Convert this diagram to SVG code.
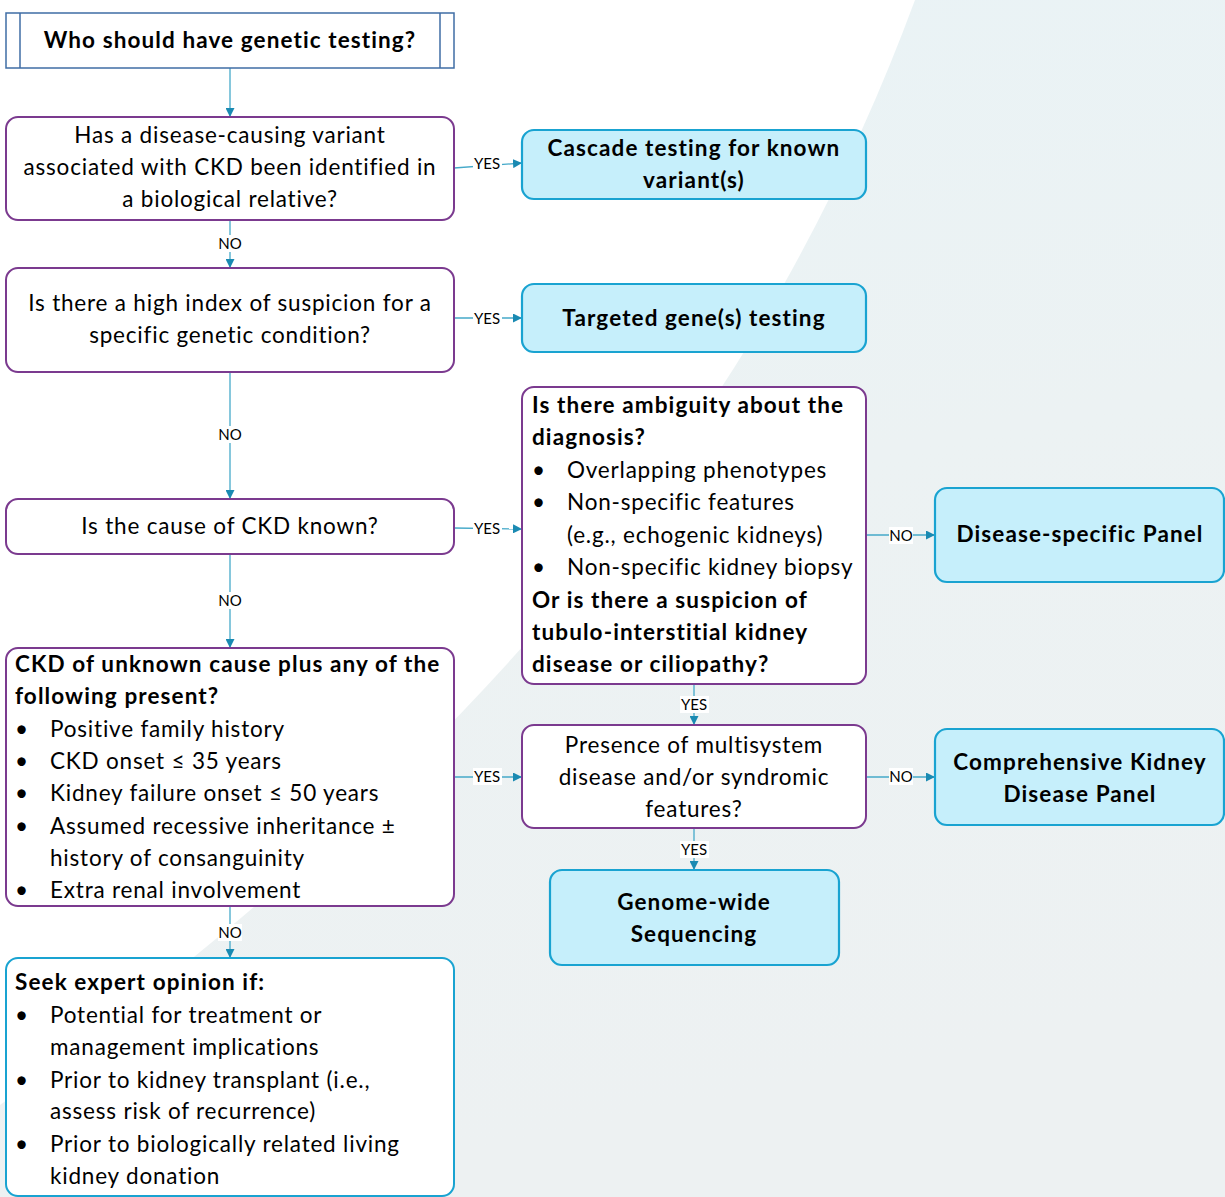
<svg xmlns="http://www.w3.org/2000/svg" width="1225" height="1197" viewBox="0 0 1225 1197">
<defs>
<linearGradient id="bg" x1="0" y1="0" x2="0.2" y2="1">
<stop offset="0" stop-color="#E9F3F6"/>
<stop offset="0.5" stop-color="#ECF2F3"/>
<stop offset="1" stop-color="#EDF1F2"/>
</linearGradient>
<marker id="arr" viewBox="0 0 10 10" refX="10" refY="5" markerWidth="9" markerHeight="9" markerUnits="userSpaceOnUse" orient="auto">
<path d="M0,0 L10,5 L0,10 Z" fill="#1A8AB2"/>
</marker>
<style>
.q{fill:#FFFFFF;stroke:#7B3A8F;stroke-width:2}
.r{fill:#C6EFFB;stroke:#19A3D1;stroke-width:2.2}
.t{font-family:Lato,"Liberation Sans",sans-serif;font-size:22.5px;letter-spacing:0.8px;fill:#000}
.b{font-weight:bold;letter-spacing:1.1px}
.c{text-anchor:middle}
.conn{stroke:#45A9C9;stroke-width:1.3;fill:none;marker-end:url(#arr)}
.lb{font-family:Lato,"Liberation Sans",sans-serif;font-size:15px;fill:#000;text-anchor:middle}
.lbg{fill:#FFFFFF}
</style>
</defs>
<rect width="1225" height="1197" fill="#FFFFFF"/>
<path d="M915,0 C760,420 480,760 0,1105 L0,1197 L1225,1197 L1225,0 Z" fill="url(#bg)"/>

<g id="connectors">
<path class="conn" d="M230,68 L230,117"/>
<path class="conn" d="M454,168 L522,163"/>
<path class="conn" d="M230,220 L230,268"/>
<path class="conn" d="M454,318 L522,318"/>
<path class="conn" d="M230,372 L230,499"/>
<path class="conn" d="M454,528 L522,529"/>
<path class="conn" d="M230,554 L230,648"/>
<path class="conn" d="M866,535 L935,535"/>
<path class="conn" d="M694,684 L694,725"/>
<path class="conn" d="M866,777 L935,777"/>
<path class="conn" d="M694,828 L694,870"/>
<path class="conn" d="M454,777 L522,777"/>
<path class="conn" d="M230,906 L230,958"/>
<g id="labels">
<rect class="lbg" x="473" y="155" width="29" height="17"/><text class="lb" x="487" y="169">YES</text>
<rect class="lbg" x="218" y="235" width="24" height="17"/><text class="lb" x="230" y="249">NO</text>
<rect class="lbg" x="473" y="310" width="29" height="17"/><text class="lb" x="487" y="324">YES</text>
<rect class="lbg" x="218" y="426" width="24" height="17"/><text class="lb" x="230" y="440">NO</text>
<rect class="lbg" x="473" y="520" width="29" height="17"/><text class="lb" x="487" y="534">YES</text>
<rect class="lbg" x="218" y="592" width="24" height="17"/><text class="lb" x="230" y="606">NO</text>
<rect class="lbg" x="889" y="527" width="24" height="17"/><text class="lb" x="901" y="541">NO</text>
<rect class="lbg" x="680" y="696" width="29" height="17"/><text class="lb" x="694" y="710">YES</text>
<rect class="lbg" x="889" y="768" width="24" height="17"/><text class="lb" x="901" y="782">NO</text>
<rect class="lbg" x="473" y="768" width="29" height="17"/><text class="lb" x="487" y="782">YES</text>
<rect class="lbg" x="680" y="841" width="29" height="17"/><text class="lb" x="694" y="855">YES</text>
<rect class="lbg" x="218" y="924" width="24" height="17"/><text class="lb" x="230" y="938">NO</text>
</g>
</g>

<g id="n-title">
<rect x="6" y="13" width="448" height="55" fill="#FFFFFF" stroke="#3F6DA5" stroke-width="1.5"/>
<line x1="20" y1="13" x2="20" y2="68" stroke="#3F6DA5" stroke-width="1.5"/>
<line x1="440" y1="13" x2="440" y2="68" stroke="#3F6DA5" stroke-width="1.5"/>
<text class="t b c" x="230" y="48">Who should have genetic testing?</text>
</g>

<g id="n-variant">
<rect class="q" x="6" y="117" width="448" height="103" rx="12"/>
<text class="t c" x="230" y="143">Has a disease-causing variant</text>
<text class="t c" x="230" y="175">associated with CKD been identified in</text>
<text class="t c" x="230" y="207">a biological relative?</text>
</g>

<g id="n-cascade">
<rect class="r" x="522" y="130" width="344" height="69" rx="12"/>
<text class="t b c" x="694" y="156">Cascade testing for known</text>
<text class="t b c" x="694" y="188">variant(s)</text>
</g>

<g id="n-suspicion">
<rect class="q" x="6" y="268" width="448" height="104" rx="12"/>
<text class="t c" x="230" y="311">Is there a high index of suspicion for a</text>
<text class="t c" x="230" y="343">specific genetic condition?</text>
</g>

<g id="n-targeted">
<rect class="r" x="522" y="284" width="344" height="68" rx="12"/>
<text class="t b c" x="694" y="326">Targeted gene(s) testing</text>
</g>

<g id="n-cause">
<rect class="q" x="6" y="499" width="448" height="55" rx="12"/>
<text class="t c" x="230" y="534">Is the cause of CKD known?</text>
</g>

<g id="n-ambiguity">
<rect class="q" x="522" y="387" width="344" height="297" rx="12"/>
<text class="t b" x="532" y="413">Is there ambiguity about the</text>
<text class="t b" x="532" y="445">diagnosis?</text>
<text class="t" x="532" y="478">•</text><text class="t" x="567" y="478">Overlapping phenotypes</text>
<text class="t" x="532" y="510">•</text><text class="t" x="567" y="510">Non-specific features</text>
<text class="t" x="567" y="543">(e.g., echogenic kidneys)</text>
<text class="t" x="532" y="575">•</text><text class="t" x="567" y="575">Non-specific kidney biopsy</text>
<text class="t b" x="532" y="608">Or is there a suspicion of</text>
<text class="t b" x="532" y="640">tubulo-interstitial kidney</text>
<text class="t b" x="532" y="672">disease or ciliopathy?</text>
</g>

<g id="n-disease-panel">
<rect class="r" x="935" y="488" width="289" height="94" rx="12"/>
<text class="t b c" x="1080" y="542">Disease-specific Panel</text>
</g>

<g id="n-multisystem">
<rect class="q" x="522" y="725" width="344" height="103" rx="12"/>
<text class="t c" x="694" y="753">Presence of multisystem</text>
<text class="t c" x="694" y="785">disease and/or syndromic</text>
<text class="t c" x="694" y="817">features?</text>
</g>

<g id="n-comprehensive">
<rect class="r" x="935" y="729" width="289" height="96" rx="12"/>
<text class="t b c" x="1080" y="770">Comprehensive Kidney</text>
<text class="t b c" x="1080" y="802">Disease Panel</text>
</g>

<g id="n-genome">
<rect class="r" x="550" y="870" width="289" height="95" rx="12"/>
<text class="t b c" x="694" y="910">Genome-wide</text>
<text class="t b c" x="694" y="942">Sequencing</text>
</g>

<g id="n-ckd">
<rect class="q" x="6" y="648" width="448" height="258" rx="12"/>
<text class="t b" x="15" y="672">CKD of unknown cause plus any of the</text>
<text class="t b" x="15" y="704">following present?</text>
<text class="t" x="15" y="737">•</text><text class="t" x="50" y="737">Positive family history</text>
<text class="t" x="15" y="769">•</text><text class="t" x="50" y="769">CKD onset ≤ 35 years</text>
<text class="t" x="15" y="801">•</text><text class="t" x="50" y="801">Kidney failure onset ≤ 50 years</text>
<text class="t" x="15" y="834">•</text><text class="t" x="50" y="834">Assumed recessive inheritance ±</text>
<text class="t" x="50" y="866">history of consanguinity</text>
<text class="t" x="15" y="898">•</text><text class="t" x="50" y="898">Extra renal involvement</text>
</g>

<g id="n-expert">
<rect x="6" y="958" width="448" height="238" rx="12" fill="#FFFFFF" stroke="#19A3D1" stroke-width="2"/>
<text class="t b" x="15" y="990">Seek expert opinion if:</text>
<text class="t" x="15" y="1023">•</text><text class="t" x="50" y="1023">Potential for treatment or</text>
<text class="t" x="50" y="1055">management implications</text>
<text class="t" x="15" y="1088">•</text><text class="t" x="50" y="1088">Prior to kidney transplant (i.e.,</text>
<text class="t" x="50" y="1119">assess risk of recurrence)</text>
<text class="t" x="15" y="1152">•</text><text class="t" x="50" y="1152">Prior to biologically related living</text>
<text class="t" x="50" y="1184">kidney donation</text>
</g>
</svg>
